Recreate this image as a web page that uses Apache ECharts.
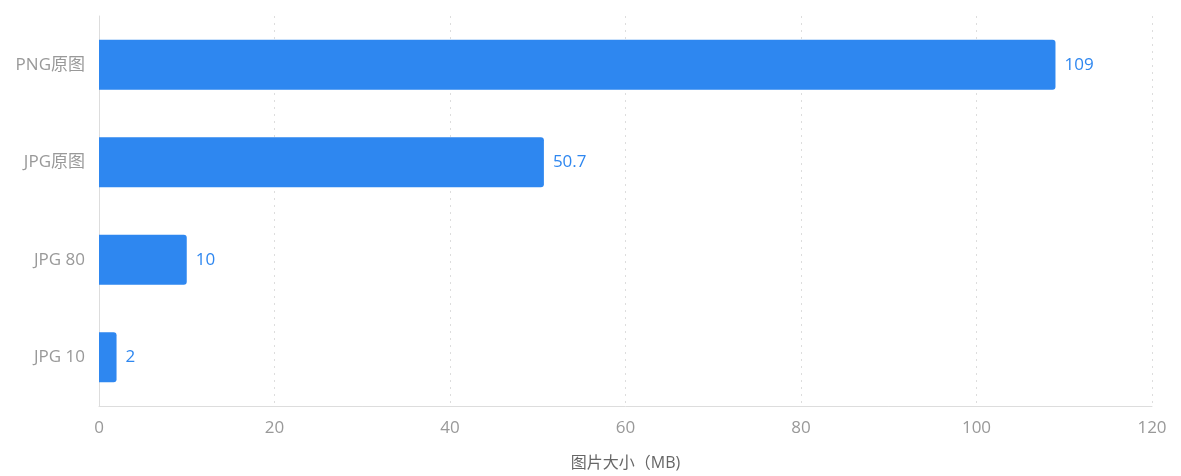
<!DOCTYPE html>
<html>
<head>
<meta charset="utf-8">
<script src="https://cdn.jsdelivr.net/npm/echarts@6/dist/echarts.min.js"></script>
<style>
  html, body { margin: 0; padding: 0; background: #fff; }
  #main { width: 1181px; height: 476px; }
</style>
</head>
<body>
<div id="main"></div>
<script>
// 数据
var categories = ['JPG 10', 'JPG 80', 'JPG原图', 'PNG原图'];
var sizes = [2, 10, 50.7, 109];
var xTicks = [0, 20, 40, 60, 80, 100, 120];

var myChart = echarts.init(document.getElementById('main'));

var option = {
    animation: false,
    textStyle: { fontFamily: '"Open Sans", "Noto Sans CJK SC", sans-serif' },
    grid: { left: 99, right: 29, top: 16, bottom: 69, containLabel: false },
    xAxis: {
        type: 'value',
        min: xTicks[0],
        max: xTicks[xTicks.length - 1],
        interval: 20,
        name: '图片大小（MB)',
        nameLocation: 'middle',
        nameGap: 49,
        nameTextStyle: { color: '#666', fontSize: 16 },
        axisLine: { show: true, lineStyle: { color: '#ddd' } },
        axisTick: { show: false },
        axisLabel: { color: '#999', fontSize: 17, margin: 14 },
        splitLine: { show: true, lineStyle: { color: '#ddd', type: [2, 5] } }
    },
    yAxis: {
        type: 'category',
        data: categories,
        axisLine: { show: true, lineStyle: { color: '#ddd' } },
        axisTick: { show: false },
        axisLabel: { color: '#999', fontSize: 17, margin: 14 }
    },
    series: [{
        type: 'bar',
        data: sizes,
        barWidth: 50,
        itemStyle: { color: '#2e87f0', borderRadius: [0, 3, 3, 0] },
        label: {
            show: true,
            position: 'right',
            distance: 9,
            color: '#2e87f0',
            fontSize: 17
        }
    }]
};

myChart.setOption(option);
</script>
</body>
</html>
